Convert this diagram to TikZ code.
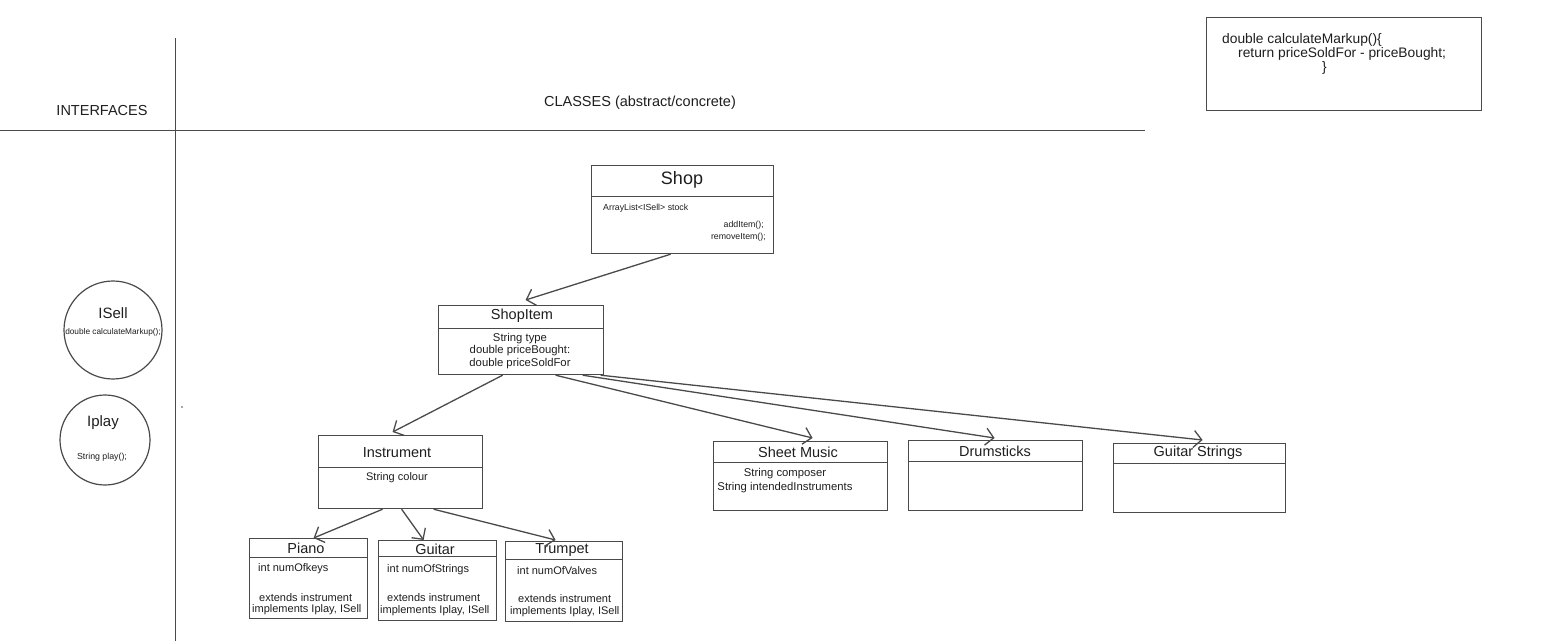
\documentclass[tikz,border=0pt]{standalone}
\usepackage{fontspec}
\setmainfont{Liberation Sans}
\usepackage{tikz}
\usetikzlibrary{arrows.meta}
\definecolor{ink}{HTML}{1E1E1E}
\definecolor{edge}{HTML}{4A4A4A}
\tikzset{
	box/.style={draw=edge,line width=1.2pt,rectangle,inner sep=0pt,anchor=north west},
	ring/.style={draw=edge,line width=1.2pt,circle,inner sep=0pt},
	rule/.style={draw=edge,line width=1pt},
	arr/.style={draw=edge,line width=1.3pt,-{Straight Barb[length=8pt,width=17pt]}},
	big/.style={text=ink,font=\fontsize{18}{21}\selectfont},
	title/.style={text=ink,font=\fontsize{14.5}{17}\selectfont},
	body/.style={text=ink,font=\fontsize{11}{13}\selectfont,inner sep=0pt},
	tiny/.style={text=ink,font=\fontsize{8.8}{10}\selectfont,inner sep=0pt},
	code/.style={text=ink,font=\fontsize{13.8}{15}\selectfont,inner sep=0pt,anchor=west}
}
\begin{document}
\begin{tikzpicture}[x=1pt,y=-1pt]
	\useasboundingbox (0,0) rectangle (1543,641);
	
	\draw[rule] (175,38) -- (175,641);
	\draw[rule] (0,130) -- (1145,130);
	\node[title] (ifaces) at (102,111) {INTERFACES};
	\node[title] (classes) at (640,103) {CLASSES (abstract/concrete)};
	
	\node[box,minimum width=275,minimum height=93] (markup) at (1206,17) {};
	\node[code] (c1) at (1222,40) {double calculateMarkup()\{};
	\node[code] (c2) at (1238,54) {return priceSoldFor - priceBought;};
	\node[code] (c3) at (1322,68) {\}};
	
	\node[ring,minimum size=98] (isell) at (113,330) {};
	\node[title,font=\fontsize{15}{17}\selectfont] (iselltitle) at (113,313) {ISell};
	\node[tiny,font=\fontsize{8.3}{10}\selectfont] (isellbody) at (113,332) {double calculateMarkup();};
	\node[ring,minimum size=90] (iplay) at (105,440) {};
	\node[title,font=\fontsize{15}{17}\selectfont] (iplaytitle) at (103,423) {Iplay};
	\node[tiny] (iplaybody) at (102,457) {String play();};
	\fill[edge] (182,407) circle (0.8pt);
	
	\node[box,minimum width=182,minimum height=88] (shop) at (591,165) {};
	\draw[rule] (shop.west |- 0,196) -- (shop.east |- 0,196);
	\node[big] (shoptitle) at (682,180) {Shop};
	\node[tiny,anchor=west] (stock) at (603,208) {ArrayList<ISell> stock};
	\node[tiny,anchor=east] (additem) at (764,225) {addItem();};
	\node[tiny,anchor=east] (removeitem) at (766,237) {removeItem();};
	
	\node[box,minimum width=165,minimum height=69] (shopitem) at (438,305) {};
	\draw[rule] (shopitem.west |- 0,328) -- (shopitem.east |- 0,328);
	\node[title] (shopitemtitle) at (522,316) {ShopItem};
	\node[body,align=center,font=\fontsize{11.3}{12.5}\selectfont] (shopitembody) at (520,351) {String type\\double priceBought:\\double priceSoldFor};
	
	\node[box,minimum width=164,minimum height=73] (instrument) at (318,435) {};
	\draw[rule] (instrument.west |- 0,467) -- (instrument.east |- 0,467);
	\node[title] (instrumenttitle) at (397,453) {Instrument};
	\node[body] (colour) at (397,478) {String colour};
	
	\node[box,minimum width=118,minimum height=80] (piano) at (249,538) {};
	\draw[rule] (piano.west |- 0,557) -- (piano.east |- 0,557);
	\node[title] (pianotitle) at (306,548) {Piano};
	\node[body,anchor=west] (keys) at (258,569) {int numOfkeys};
	\node[body,anchor=west] (pext) at (259,598) {extends instrument};
	\node[body,anchor=west] (pimp) at (252,610) {implements Iplay, ISell};
	
	\node[box,minimum width=118,minimum height=80] (guitar) at (378,540) {};
	\draw[rule] (guitar.west |- 0,556) -- (guitar.east |- 0,556);
	\node[title] (guitartitle) at (435,549) {Guitar};
	\node[body,anchor=west] (strings) at (387,570) {int numOfStrings};
	\node[body,anchor=west] (gext) at (387,598) {extends instrument};
	\node[body,anchor=west] (gimp) at (380,611) {implements Iplay, ISell};
	
	\node[box,minimum width=117,minimum height=80] (trumpet) at (505,541) {};
	\draw[rule] (trumpet.west |- 0,559) -- (trumpet.east |- 0,559);
	\node[title] (trumpettitle) at (562,550) {Trumpet};
	\node[body,anchor=west] (valves) at (517,571) {int numOfValves};
	\node[body,anchor=west] (text) at (518,599) {extends instrument};
	\node[body,anchor=west] (timp) at (510,612) {implements Iplay, ISell};
	
	\node[box,minimum width=174,minimum height=69] (sheet) at (713,441) {};
	\draw[rule] (sheet.west |- 0,462) -- (sheet.east |- 0,462);
	\node[title] (sheettitle) at (798,452) {Sheet Music};
	\node[body,align=center,font=\fontsize{11.3}{14}\selectfont] (sheetbody) at (785,481) {String composer\\String intendedInstruments};
	
	\node[box,minimum width=174,minimum height=70] (drum) at (908,440) {};
	\draw[rule] (drum.west |- 0,461) -- (drum.east |- 0,461);
	\node[title] (drumtitle) at (995,451) {Drumsticks};
	
	\node[box,minimum width=172,minimum height=69] (gstrings) at (1113,443) {};
	\draw[rule] (gstrings.west |- 0,463) -- (gstrings.east |- 0,463);
	\node[title] (gstringstitle) at (1198,453) {Guitar Strings};
	
	\draw[arr] ([xshift=-12pt]shop.south) -- ([xshift=4.5pt,yshift=5pt]shopitem.north);
	\draw[arr] ([xshift=-18.5pt]shopitem.south) -- ([xshift=-8pt,yshift=3pt]instrument.north);
	\draw[arr] ([xshift=34.5pt]shopitem.south) -- ([xshift=12pt,yshift=3pt]sheet.north);
	\draw[arr] ([xshift=61.5pt]shopitem.south) -- ([xshift=-1pt,yshift=2pt]drum.north);
	\draw[arr] ([xshift=79.5pt]shopitem.south) -- ([xshift=3pt,yshift=3pt]gstrings.north);
	\draw[arr] ([xshift=-18pt]instrument.south) -- ([xshift=5pt]piano.north);
	\draw[arr] ([xshift=1pt]instrument.south) -- ([xshift=-14pt]guitar.north);
	\draw[arr] ([xshift=33pt]instrument.south) -- ([xshift=-8.5pt,yshift=1pt]trumpet.north);
\end{tikzpicture}
\end{document}
